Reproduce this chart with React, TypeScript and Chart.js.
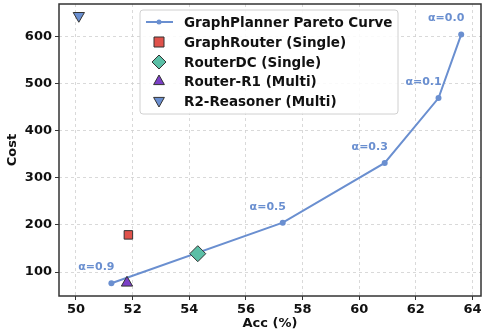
import React, { useEffect, useRef } from "react";
import { Chart, registerables } from "chart.js";

Chart.register(...registerables);

const paretoAcc = [51.25, 57.3, 60.9, 62.8, 63.6];
const paretoCost = [76, 205, 332, 470, 605];
const alphaLabels = ["α=0.9", "α=0.5", "α=0.3", "α=0.1", "α=0.0"];

const baselineNames = ["GraphRouter (Single)", "RouterDC (Single)", "Router-R1 (Multi)", "R2-Reasoner (Multi)"];
const baselineAcc = [51.85, 54.3, 51.8, 50.1];
const baselineCost = [179, 139, 77, 645];

const xTicks = [50, 52, 54, 56, 58, 60, 62, 64];
const yTicks = [100, 200, 300, 400, 500, 600];

const BLUE = "#6a8fd0";
const FONT = "'DejaVu Sans', sans-serif";

function marker(ctx: CanvasRenderingContext2D, kind: string, x: number, y: number, r: number, fill: string) {
  ctx.beginPath();
  if (kind === "rect") {
    ctx.rect(x - r, y - r, 2 * r, 2 * r);
  } else if (kind === "diamond") {
    ctx.moveTo(x, y - r); ctx.lineTo(x + r, y); ctx.lineTo(x, y + r); ctx.lineTo(x - r, y); ctx.closePath();
  } else if (kind === "up") {
    ctx.moveTo(x, y - r); ctx.lineTo(x + r * 0.9, y + r * 0.6); ctx.lineTo(x - r * 0.9, y + r * 0.6); ctx.closePath();
  } else {
    ctx.moveTo(x, y + r); ctx.lineTo(x + r * 0.9, y - r * 0.6); ctx.lineTo(x - r * 0.9, y - r * 0.6); ctx.closePath();
  }
  ctx.fillStyle = fill;
  ctx.fill();
  ctx.strokeStyle = "#333";
  ctx.lineWidth = 1;
  ctx.stroke();
}

export default function App() {
  const ref = useRef<HTMLCanvasElement>(null);
  useEffect(() => {
    const canvas = ref.current!;
    const styles = [
      { style: "rect", rot: 0, kind: "rect", color: "#e0524b", r: 6, lr: 5 },
      { style: "rectRot", rot: 0, kind: "diamond", color: "#5bbfa6", r: 8, lr: 7 },
      { style: "triangle", rot: 0, kind: "up", color: "#7b3fc6", r: 6.5, lr: 6 },
      { style: "triangle", rot: 180, kind: "down", color: BLUE, r: 6.5, lr: 6 },
    ];
    const datasets: any[] = [
      {
        type: "line",
        label: "GraphPlanner Pareto Curve",
        data: paretoAcc.map((x, i) => ({ x, y: paretoCost[i] })),
        borderColor: BLUE,
        backgroundColor: BLUE,
        borderWidth: 2,
        pointRadius: 3,
        pointBorderWidth: 0,
        showLine: true,
        order: 5,
      },
      ...baselineNames.map((n, i) => ({
        type: "scatter",
        label: n,
        data: [{ x: baselineAcc[i], y: baselineCost[i] }],
        pointStyle: styles[i].style,
        rotation: styles[i].rot,
        pointRadius: styles[i].r,
        backgroundColor: styles[i].color,
        borderColor: "#333",
        borderWidth: 1,
        order: 1,
      })),
    ];

    const overlay = {
      id: "overlay",
      afterDatasetsDraw(chart: any) {
        const ctx = chart.ctx;
        const xs = chart.scales.x, ys = chart.scales.y;
        const ca = chart.chartArea;
        ctx.save();
        ctx.font = `bold 11px ${FONT}`;
        ctx.fillStyle = BLUE;
        ctx.textAlign = "center";
        ctx.textBaseline = "middle";
        paretoAcc.forEach((x, i) => {
          const px = xs.getPixelForValue(x);
          const py = ys.getPixelForValue(paretoCost[i]);
          ctx.fillText(alphaLabels[i], px - 15, py - 16);
        });
        ctx.strokeStyle = "#333";
        ctx.lineWidth = 1.5;
        ctx.strokeRect(ca.left, ca.top, ca.right - ca.left, ca.bottom - ca.top);
        const lx = 140, ly = 10, lw = 258, lh = 104;
        ctx.beginPath();
        ctx.roundRect(lx, ly, lw, lh, 3);
        ctx.fillStyle = "rgba(255,255,255,0.85)";
        ctx.fill();
        ctx.strokeStyle = "#d0d0d0";
        ctx.lineWidth = 1;
        ctx.stroke();
        const rowY = [22, 42, 62, 81, 101];
        const mx = 159;
        ctx.strokeStyle = BLUE;
        ctx.lineWidth = 2;
        ctx.beginPath();
        ctx.moveTo(146, rowY[0]);
        ctx.lineTo(173, rowY[0]);
        ctx.stroke();
        ctx.fillStyle = BLUE;
        ctx.beginPath();
        ctx.arc(mx, rowY[0], 2.5, 0, Math.PI * 2);
        ctx.fill();
        styles.forEach((s, i) => marker(ctx, s.kind, mx, rowY[i + 1], s.lr, s.color));
        ctx.fillStyle = "#111";
        ctx.font = `bold 13.5px ${FONT}`;
        ctx.textAlign = "left";
        ctx.textBaseline = "middle";
        const names = ["GraphPlanner Pareto Curve", ...baselineNames];
        names.forEach((n, i) => ctx.fillText(n, 184, rowY[i] + 1));
        ctx.restore();
      },
    };

    const chart = new Chart(canvas, {
      type: "scatter",
      data: { datasets },
      options: {
        animation: false,
        responsive: false,
        layout: { autoPadding: false, padding: { top: 4, right: 4, left: 0, bottom: 0 } },
        plugins: { legend: { display: false }, tooltip: { enabled: false } },
        scales: {
          x: {
            type: "linear",
            min: 49.4,
            max: 64.3,
            afterBuildTicks: (s: any) => { s.ticks = xTicks.map((v) => ({ value: v })); },
            afterFit: (s: any) => { s.height = 37; s.paddingLeft = 0; s.paddingRight = 0; },
            grid: { color: "#d0d0d0", lineWidth: 0.8, drawTicks: true, tickLength: 4, tickColor: "#333", tickWidth: 1 },
            border: { display: false, dash: [3, 3] },
            ticks: { color: "#111", font: { family: FONT, weight: "bold", size: 13 }, padding: 2 },
            title: { display: true, text: "Acc (%)", color: "#111", font: { family: FONT, weight: "bold", size: 13 }, padding: { top: 0, bottom: 2 } },
          },
          y: {
            type: "linear",
            min: 49,
            max: 670,
            afterBuildTicks: (s: any) => { s.ticks = yTicks.map((v) => ({ value: v })); },
            afterFit: (s: any) => { s.width = 59; s.paddingTop = 0; s.paddingBottom = 0; },
            grid: { color: "#d0d0d0", lineWidth: 0.8, drawTicks: true, tickLength: 4, tickColor: "#333", tickWidth: 1 },
            border: { display: false, dash: [3, 3] },
            ticks: { color: "#111", font: { family: FONT, weight: "bold", size: 13 }, padding: 3 },
            title: { display: true, text: "Cost", color: "#111", font: { family: FONT, weight: "bold", size: 13 }, padding: { top: 5, bottom: 0 } },
          },
        },
      } as any,
      plugins: [overlay],
    });
    return () => chart.destroy();
  }, []);
  return (
    <div style={{ position: "fixed", left: 0, top: 0, width: 485, height: 333, background: "#fff" }}>
      <canvas ref={ref} width={485} height={333} style={{ width: 485, height: 333 }} />
    </div>
  );
}
